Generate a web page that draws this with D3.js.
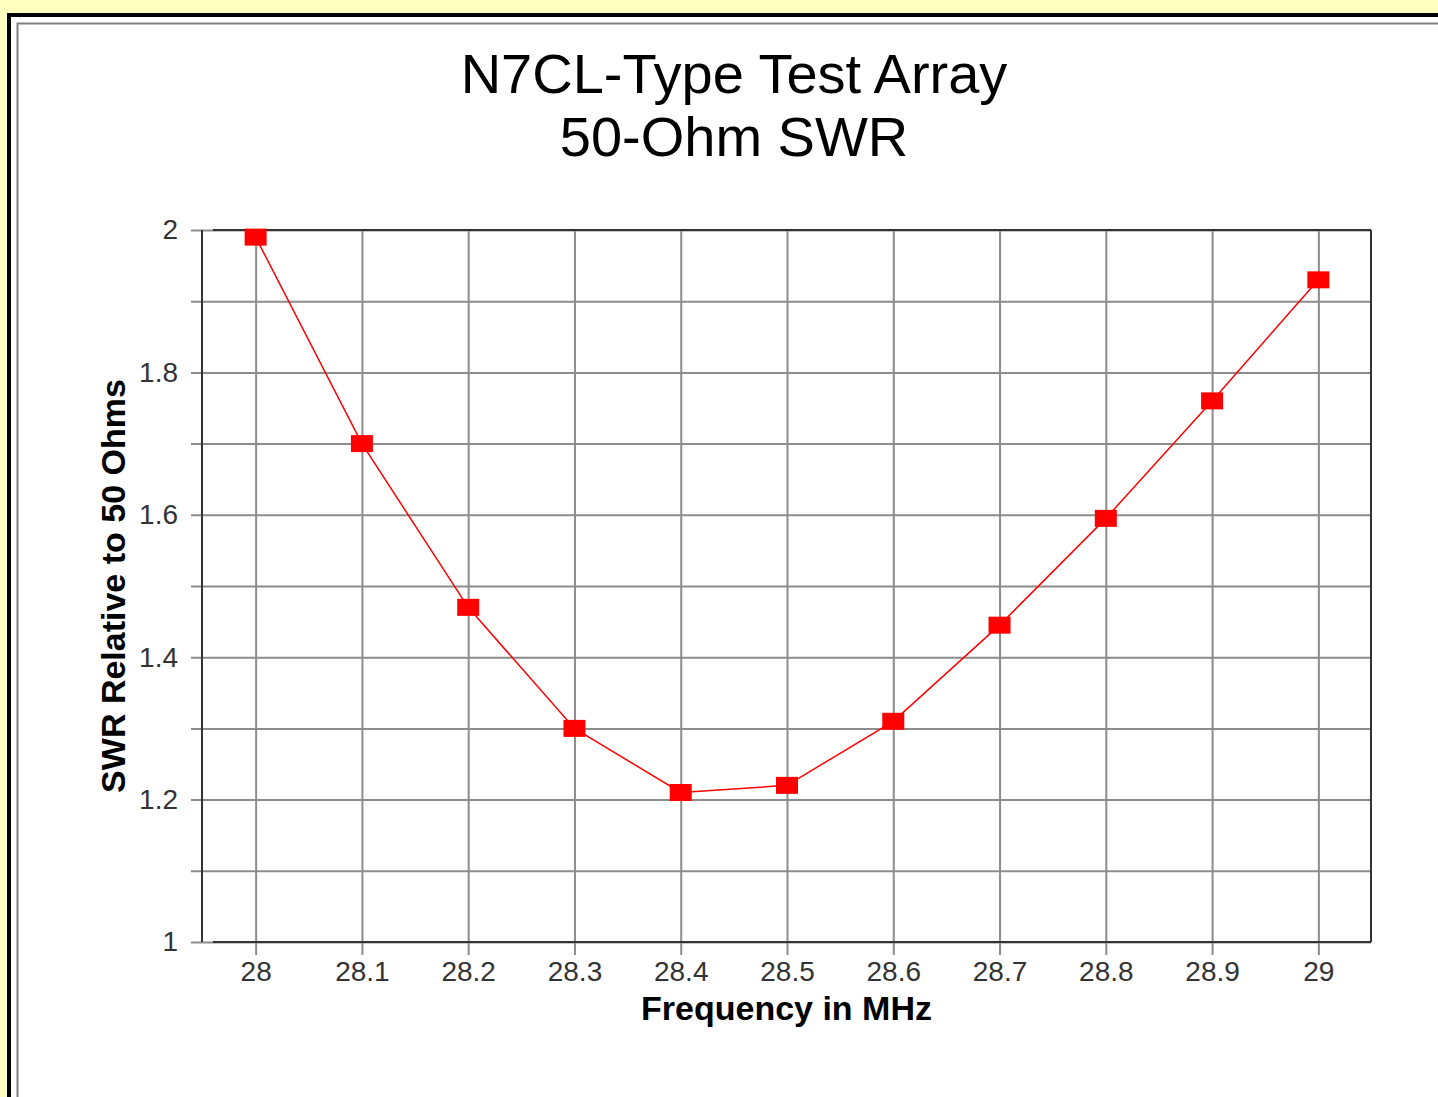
<!DOCTYPE html>
<html>
<head>
<meta charset="utf-8">
<script src="https://cdn.jsdelivr.net/npm/d3@7"></script>
<style>
  body { margin: 0; background: #ffffc0; }
  svg { display: block; }
  .tick text { font-family: "Liberation Sans", Arial, sans-serif; font-size: 28px; fill: #333; }
</style>
</head>
<body>
<svg id="chart" width="1438" height="1097"></svg>
<script>
// données
const frequences = [28, 28.1, 28.2, 28.3, 28.4, 28.5, 28.6, 28.7, 28.8, 28.9, 29];
const swr = [1.99, 1.70, 1.47, 1.30, 1.21, 1.22, 1.31, 1.445, 1.595, 1.76, 1.93];
const graduationsY = [1, 1.1, 1.2, 1.3, 1.4, 1.5, 1.6, 1.7, 1.8, 1.9, 2];
const etiquettesY = [1, 1.2, 1.4, 1.6, 1.8, 2];
const titre = ["N7CL-Type Test Array", "50-Ohm SWR"];

const svg = d3.select("#chart");

// fond jaune + cadre
svg.append("rect").attr("width", 1438).attr("height", 1097).attr("fill", "#ffffc0");
svg.append("rect")
    .attr("x", 9).attr("y", 15).attr("width", 1500).attr("height", 1200)
    .attr("fill", "white").attr("stroke", "black").attr("stroke-width", 4);
svg.append("rect")
    .attr("x", 17.5).attr("y", 23.5).attr("width", 1500).attr("height", 1200)
    .attr("fill", "white").attr("stroke", "#808080").attr("stroke-width", 2);

const gauche = 202, droite = 1371, haut = 230, bas = 942;

const x = d3.scaleLinear().domain([27.95, 29.05]).range([gauche + 0.5, droite + 0.5]);
const y = d3.scaleLinear().domain([1, 2]).range([bas, haut]);

// titre
svg.append("text")
    .attr("x", 734).attr("text-anchor", "middle")
    .style("font-family", "'Liberation Sans', Arial, sans-serif")
    .style("font-size", "56px")
    .selectAll("tspan")
    .data(titre)
    .join("tspan")
    .attr("x", 734)
    .attr("y", (d, i) => 93 + i * 63)
    .text(d => d);

// axe Y + grille horizontale
const axeY = svg.append("g")
    .attr("transform", `translate(${gauche},0)`)
    .call(d3.axisLeft(y)
        .tickValues(graduationsY)
        .tickSize(11)
        .tickPadding(13)
        .tickFormat(d => etiquettesY.some(e => Math.abs(e - d) < 1e-9) ? d3.format("")(d) : ""));
axeY.select(".domain").remove();
axeY.selectAll(".tick line")
    .attr("x2", droite - gauche)
    .attr("x1", -11)
    .attr("stroke", "#8c8c8c").attr("stroke-width", 2);

// axe X + grille verticale
const axeX = svg.append("g")
    .attr("transform", `translate(0,${bas})`)
    .call(d3.axisBottom(x)
        .tickValues(frequences)
        .tickSize(13)
        .tickPadding(6)
        .tickFormat(d3.format("")));
axeX.select(".domain").remove();
axeX.selectAll(".tick line")
    .attr("y1", haut - bas)
    .attr("stroke", "#8c8c8c").attr("stroke-width", 2);

// cadre du graphique
const cadre = svg.append("g").attr("stroke", "#333").attr("stroke-width", 2).attr("fill", "none");
cadre.append("line").attr("x1", gauche).attr("x2", gauche).attr("y1", haut).attr("y2", bas);
cadre.append("line").attr("x1", gauche + 11).attr("x2", droite).attr("y1", haut).attr("y2", haut);
cadre.append("line").attr("x1", gauche + 11).attr("x2", droite).attr("y1", bas).attr("y2", bas);
cadre.append("line").attr("x1", droite).attr("x2", droite).attr("y1", haut).attr("y2", bas);

// courbe
const points = frequences.map((f, i) => ({ f: f, v: swr[i] }));
svg.append("path")
    .datum(points)
    .attr("fill", "none")
    .attr("stroke", "red")
    .attr("stroke-width", 1.5)
    .attr("d", d3.line().x(d => x(d.f)).y(d => y(d.v)));

svg.selectAll(".marqueur")
    .data(points)
    .join("rect")
    .attr("class", "marqueur")
    .attr("x", d => x(d.f) - 11)
    .attr("y", d => y(d.v) - 8.5)
    .attr("width", 22)
    .attr("height", 17)
    .attr("fill", "red");

// titres des axes
svg.append("text")
    .attr("transform", `translate(125,${(haut + bas) / 2}) rotate(-90)`)
    .attr("text-anchor", "middle")
    .style("font-family", "'Liberation Sans', Arial, sans-serif")
    .style("font-size", "34px")
    .style("font-weight", "bold")
    .text("SWR Relative to 50 Ohms");

svg.append("text")
    .attr("x", (gauche + droite) / 2)
    .attr("y", 1020)
    .attr("text-anchor", "middle")
    .style("font-family", "'Liberation Sans', Arial, sans-serif")
    .style("font-size", "34px")
    .style("font-weight", "bold")
    .text("Frequency in MHz");
</script>
</body>
</html>
